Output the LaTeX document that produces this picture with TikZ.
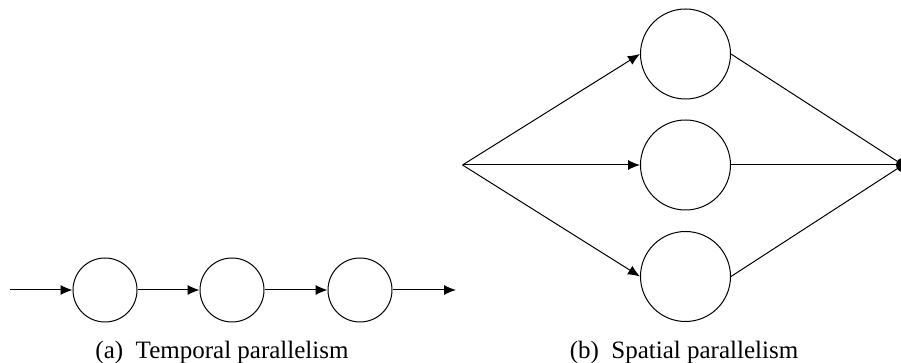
\documentclass[tikz,border=0pt]{standalone}
\usepackage{fontspec}
\setmainfont{Liberation Serif}
\usetikzlibrary{arrows.meta}
\begin{document}
\begin{tikzpicture}[x=0.5pt,y=-0.5pt,
  stage/.style={circle,draw,line width=0.5pt,minimum size=32pt,inner sep=0pt},
  bigstage/.style={circle,draw,line width=0.5pt,minimum size=45pt,inner sep=0pt},
  flow/.style={line width=0.5pt,-{Latex[length=6pt,width=5pt]}},
  link/.style={line width=0.5pt},
  caption/.style={font=\fontsize{12.5}{15}\selectfont,inner sep=0pt}]
\useasboundingbox (0,0) rectangle (901,363);

% (a) stages in a pipeline
\coordinate (ain) at (10,290);
\node[stage] (a1) at (105,290) {};
\node[stage] (a2) at (232,290) {};
\node[stage] (a3) at (360,290) {};
\coordinate (aout) at (456,290);
\draw[flow] (ain) -- (a1);
\draw[flow] (a1) -- (a2);
\draw[flow] (a2) -- (a3);
\draw[flow] (a3) -- (aout);
\node[caption] (capa) at (222,352) {(a)\enspace Temporal parallelism};

% (b) replicated units fed from one source
\coordinate (src) at (462.5,165);
\node[bigstage] (b1) at (685.5,54) {};
\node[bigstage] (b2) at (685.5,165) {};
\node[bigstage] (b3) at (685.5,276.5) {};
\node[circle,fill,inner sep=0pt,minimum size=7pt] (sink) at (903,165) {};
\draw[flow] (src) -- (b1.west);
\draw[flow] (src) -- (b2.west);
\draw[flow] (src) -- (b3.west);
\draw[link] (b1.east) -- (sink.center);
\draw[link] (b2.east) -- (sink.center);
\draw[link] (b3.east) -- (sink.center);
\node[caption] (capb) at (684,352) {(b)\enspace Spatial parallelism};
\end{tikzpicture}
\end{document}
